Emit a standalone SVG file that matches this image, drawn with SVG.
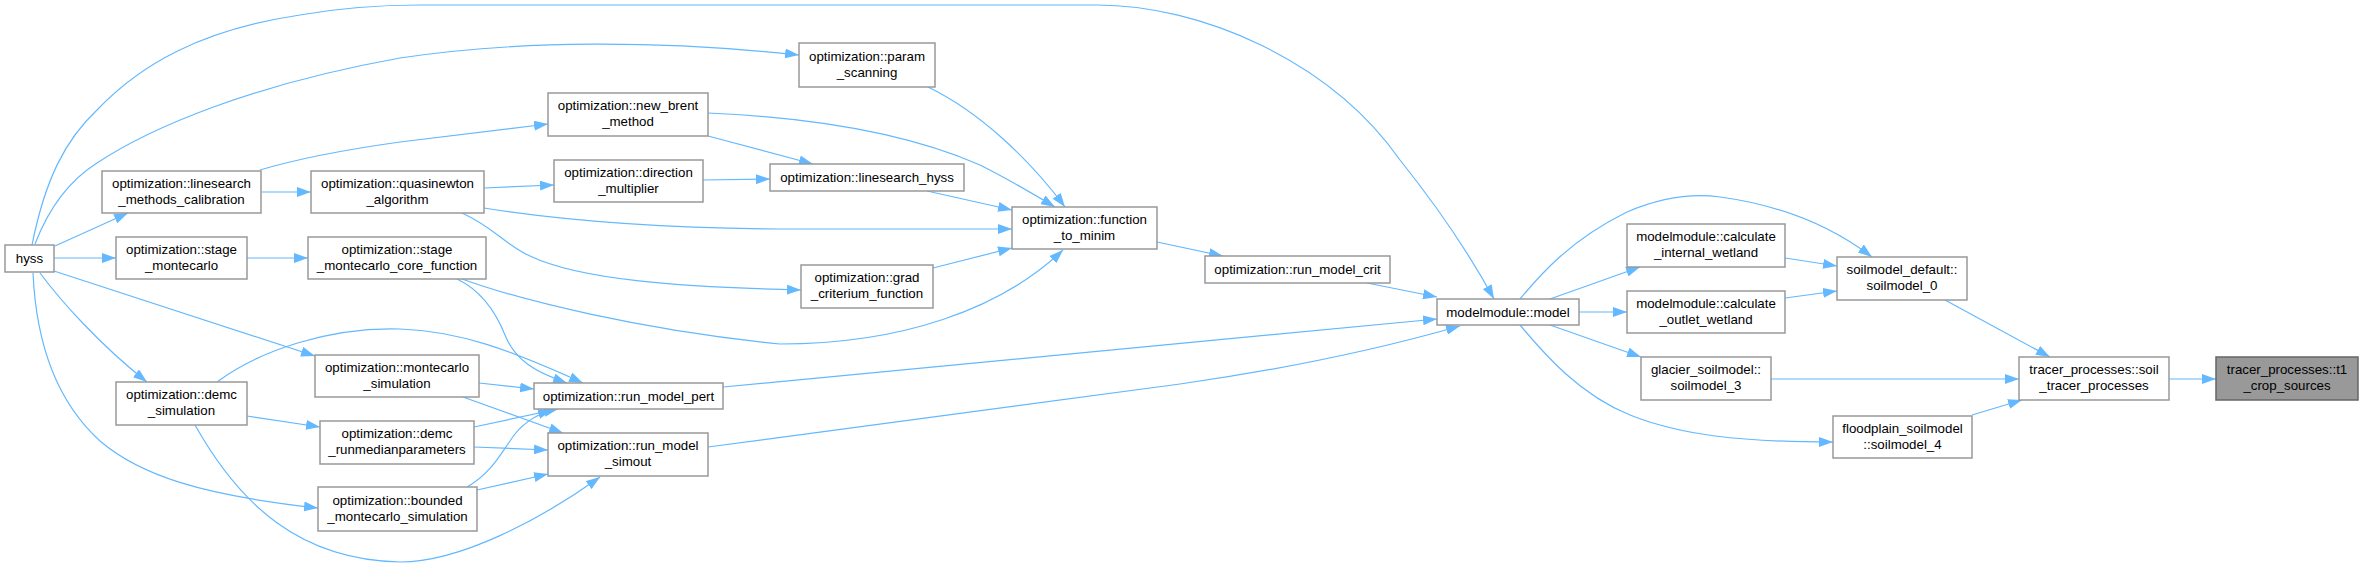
<svg xmlns="http://www.w3.org/2000/svg" width="2363" height="569" viewBox="0 0 2363 569">
<style>
.n rect{fill:#ffffff;stroke:#999999;stroke-width:1.5}
.n.cur rect{fill:#999999;stroke:#666666}
.n text{font-family:"Liberation Sans",Arial,sans-serif;font-size:13.3px;fill:#000000;text-anchor:middle}
.e path{fill:none;stroke:#63b8ff;stroke-width:1.2;marker-end:url(#ah)}
</style>
<defs>
<marker id="ah" viewBox="0 0 14 10" refX="14" refY="5" markerWidth="14" markerHeight="10" markerUnits="userSpaceOnUse" orient="auto">
<path d="M0,0 L14,5 L0,10 z" fill="#63b8ff"/>
</marker>
</defs>
<rect x="0" y="0" width="2363" height="569" fill="#ffffff"/>
<g id="edges" class="e">
<path d="M55,246 L128,213"/>
<path d="M54,258 L116,258"/>
<path d="M35,244 C50,205 70,180 97,163 C150,128 250,85 400,58 C520,40 660,40 799,55"/>
<path d="M32,245 C45,180 65,140 97,110 C140,65 200,30 300,15 C340,8 380,5 420,5 L1097,5 C1200,5 1330,60 1400,160 C1440,210 1470,255 1494,299"/>
<path d="M261,192 L311,192"/>
<path d="M247,258 L308,258"/>
<path d="M54,271 L315,356"/>
<path d="M40,273 C60,300 100,345 147,382"/>
<path d="M33,273 C36,340 55,400 100,441 C140,475 200,495 318,508"/>
<path d="M260,170 C300,158 350,149 400,142 L548,124"/>
<path d="M247,416 L320,427"/>
<path d="M217,382 C260,350 330,327 400,329 C460,331 510,350 583,383"/>
<path d="M457,279 C480,290 495,310 505,335 C515,360 535,372 567,383"/>
<path d="M462,279 C520,300 640,330 780,344 C900,344 1000,310 1063,250"/>
<path d="M479,383 L534,389"/>
<path d="M474,427 L558,409"/>
<path d="M467,487 C490,474 500,455 510,441 C520,425 535,415 552,410"/>
<path d="M463,397 L563,433"/>
<path d="M474,447 L548,450"/>
<path d="M477,490 L548,474"/>
<path d="M195,425 C240,505 300,560 400,562 C460,562 540,520 600,477"/>
<path d="M723,387 L1437,319"/>
<path d="M708,447 L1180,384 C1300,367 1390,346 1460,326"/>
<path d="M1367,283 L1437,297"/>
<path d="M1157,242 L1223,256"/>
<path d="M928,87 C980,112 1030,160 1065,207"/>
<path d="M708,113 C800,117 900,130 980,165 C1010,180 1035,195 1055,207"/>
<path d="M708,136 L813,164"/>
<path d="M703,180 L770,179"/>
<path d="M927,191 L1012,210"/>
<path d="M484,208 C560,220 650,228 780,229 L1012,229"/>
<path d="M484,188 L554,185"/>
<path d="M462,213 C495,228 505,245 530,256 C580,280 680,287 801,290"/>
<path d="M933,268 L1012,248"/>
<path d="M1550,299 L1640,267"/>
<path d="M1579,312 L1627,312"/>
<path d="M1550,325 L1641,357"/>
<path d="M1520,325 C1545,355 1580,395 1630,415 C1680,435 1740,442 1833,442"/>
<path d="M1520,299 C1540,275 1570,240 1627,212 C1660,198 1690,193 1720,197 C1780,205 1830,225 1872,257"/>
<path d="M1785,258 L1837,266"/>
<path d="M1785,298 L1837,291"/>
<path d="M1945,300 L2050,357"/>
<path d="M1771,379 L2019,379"/>
<path d="M1972,415 L2022,400"/>
<path d="M2169,379 L2216,379"/>
</g>
<g id="hyss" class="n"><rect x="5" y="245" width="49" height="27"/><text x="29.5" y="263">hyss</text></g>
<g id="lmc" class="n"><rect x="102" y="171" width="159" height="42"/><text x="181.5" y="188">optimization::linesearch</text><text x="181.5" y="204">_methods_calibration</text></g>
<g id="stage_mc" class="n"><rect x="116" y="237" width="131" height="42"/><text x="181.5" y="254">optimization::stage</text><text x="181.5" y="270">_montecarlo</text></g>
<g id="quasinewton" class="n"><rect x="311" y="171" width="173" height="42"/><text x="397.5" y="188">optimization::quasinewton</text><text x="397.5" y="204">_algorithm</text></g>
<g id="core_fn" class="n"><rect x="308" y="237" width="178" height="42"/><text x="397" y="254">optimization::stage</text><text x="397" y="270">_montecarlo_core_function</text></g>
<g id="new_brent" class="n"><rect x="548" y="93" width="160" height="43"/><text x="628" y="110">optimization::new_brent</text><text x="628" y="126">_method</text></g>
<g id="direction" class="n"><rect x="554" y="160" width="149" height="42"/><text x="628.5" y="177">optimization::direction</text><text x="628.5" y="193">_multiplier</text></g>
<g id="lsh" class="n"><rect x="770" y="164" width="194" height="27"/><text x="867" y="182">optimization::linesearch_hyss</text></g>
<g id="param" class="n"><rect x="799" y="43" width="136" height="44"/><text x="867" y="61">optimization::param</text><text x="867" y="77">_scanning</text></g>
<g id="ftm" class="n"><rect x="1012" y="207" width="145" height="42"/><text x="1084.5" y="224">optimization::function</text><text x="1084.5" y="240">_to_minim</text></g>
<g id="grad" class="n"><rect x="801" y="265" width="132" height="43"/><text x="867" y="282">optimization::grad</text><text x="867" y="298">_criterium_function</text></g>
<g id="crit" class="n"><rect x="1205" y="256" width="185" height="27"/><text x="1297.5" y="274">optimization::run_model_crit</text></g>
<g id="demc" class="n"><rect x="116" y="382" width="131" height="43"/><text x="181.5" y="399">optimization::demc</text><text x="181.5" y="415">_simulation</text></g>
<g id="mc_sim" class="n"><rect x="315" y="355" width="164" height="42"/><text x="397" y="372">optimization::montecarlo</text><text x="397" y="388">_simulation</text></g>
<g id="demc_run" class="n"><rect x="320" y="421" width="154" height="43"/><text x="397" y="438">optimization::demc</text><text x="397" y="454">_runmedianparameters</text></g>
<g id="bounded" class="n"><rect x="318" y="487" width="159" height="44"/><text x="397.5" y="505">optimization::bounded</text><text x="397.5" y="521">_montecarlo_simulation</text></g>
<g id="pert" class="n"><rect x="534" y="383" width="189" height="26"/><text x="628.5" y="401">optimization::run_model_pert</text></g>
<g id="simout" class="n"><rect x="548" y="433" width="160" height="43"/><text x="628" y="450">optimization::run_model</text><text x="628" y="466">_simout</text></g>
<g id="model" class="n"><rect x="1437" y="299" width="142" height="26"/><text x="1508" y="317">modelmodule::model</text></g>
<g id="internal" class="n"><rect x="1627" y="224" width="158" height="43"/><text x="1706" y="241">modelmodule::calculate</text><text x="1706" y="257">_internal_wetland</text></g>
<g id="outlet" class="n"><rect x="1627" y="291" width="158" height="42"/><text x="1706" y="308">modelmodule::calculate</text><text x="1706" y="324">_outlet_wetland</text></g>
<g id="glacier" class="n"><rect x="1641" y="357" width="130" height="43"/><text x="1706" y="374">glacier_soilmodel::</text><text x="1706" y="390">soilmodel_3</text></g>
<g id="floodplain" class="n"><rect x="1833" y="416" width="139" height="42"/><text x="1902.5" y="433">floodplain_soilmodel</text><text x="1902.5" y="449">::soilmodel_4</text></g>
<g id="soil0" class="n"><rect x="1837" y="257" width="130" height="43"/><text x="1902" y="274">soilmodel_default::</text><text x="1902" y="290">soilmodel_0</text></g>
<g id="tracer" class="n"><rect x="2019" y="357" width="150" height="43"/><text x="2094" y="374">tracer_processes::soil</text><text x="2094" y="390">_tracer_processes</text></g>
<g id="t1" class="n cur"><rect x="2216" y="357" width="142" height="43"/><text x="2287" y="374">tracer_processes::t1</text><text x="2287" y="390">_crop_sources</text></g>
</svg>
